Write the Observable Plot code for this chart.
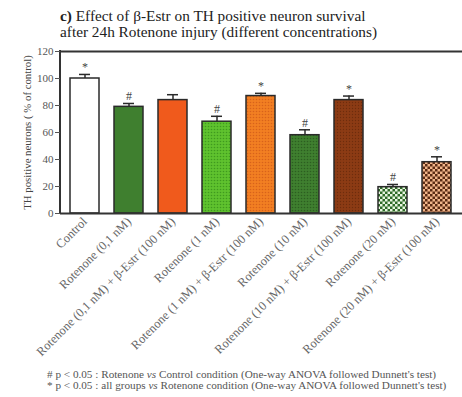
<!DOCTYPE html>
<html>
<head>
<meta charset="utf-8">
<script src="https://cdn.jsdelivr.net/npm/d3@7"></script>
<script src="https://cdn.jsdelivr.net/npm/@observablehq/plot@0.6"></script>
<style>
  body { margin: 0; background: #fff; width: 462px; height: 397px; overflow: hidden; }
  #title { height: 44px; box-sizing: border-box; padding: 8px 0 0 60px; font-family: "Liberation Serif", serif; font-size: 15.3px; line-height: 16px; color: #222; }
  #chart svg { display: block; }
  #foot { position: absolute; left: 47px; top: 369px; font-family: "Liberation Serif", serif; font-size: 11.2px; line-height: 11px; color: #555; white-space: nowrap; }
</style>
</head>
<body>
<div id="title"><b>c)</b> Effect of β-Estr on TH positive neuron survival<br>after 24h Rotenone injury (different concentrations)</div>
<div id="chart"></div>
<div id="foot"># p &lt; 0.05 : Rotenone <i>vs</i> Control condition (One-way ANOVA followed Dunnett's test)<br>* p &lt; 0.05 : all groups <i>vs</i> Rotenone condition (One-way ANOVA followed Dunnett's test)</div>
<script>
const categories = [
  "Control",
  "Rotenone (0,1 nM)",
  "Rotenone (0,1 nM) + β-Estr (100 nM)",
  "Rotenone (1 nM)",
  "Rotenone (1 nM) + β-Estr (100 nM)",
  "Rotenone (10 nM)",
  "Rotenone (10 nM) + β-Estr (100 nM)",
  "Rotenone (20 nM)",
  "Rotenone (20 nM) + β-Estr (100 nM)"
];
const values = [100, 79, 84, 68, 87, 58, 84, 19.5, 38];
const errors = [3, 2.5, 4, 4, 2, 4, 3, 2, 4];
const signif = ["*", "#", "", "#", "*", "#", "*", "#", "*"];
const yTicks = [0, 20, 40, 60, 80, 100, 120];
const yLabel = "TH positive neurons ( % of control)";

const fills = ["#ffffff", "#3f7f2f", "#f05a1c", "url(#pLightGreen)", "url(#pOrange)", "url(#pDarkGreen)", "url(#pBrown)", "url(#pCheckGreen)", "url(#pCheckPeach)"];

const data = categories.map((c, i) => ({name: c, value: values[i], err: errors[i], top: values[i] + errors[i], sig: signif[i], fill: fills[i]}));

const leftAxisLine = (index, scales, values, dimensions) => {
  const g = document.createElementNS("http://www.w3.org/2000/svg", "line");
  g.setAttribute("x1", dimensions.marginLeft);
  g.setAttribute("x2", dimensions.marginLeft);
  g.setAttribute("y1", scales.y(0) + 1);
  g.setAttribute("y2", scales.y(120) - 1);
  g.setAttribute("stroke", "#333");
  g.setAttribute("stroke-width", 2);
  return g;
};

const plot = Plot.plot({
  width: 462,
  height: 322,
  marginTop: 7,
  marginBottom: 153,
  marginLeft: 60,
  marginRight: 0,
  style: {fontFamily: "Liberation Serif, serif", background: "transparent", overflow: "visible"},
  x: {domain: categories, paddingInner: 0.33, paddingOuter: 0.18, label: null},
  y: {domain: [0, 120], ticks: yTicks, label: null},
  marks: [
    Plot.barY(data, {x: "name", y: "value", fill: "fill", stroke: "#2a2a2a", strokeWidth: 1.5}),
    Plot.ruleX(data, {x: "name", y1: "value", y2: "top", stroke: "#2a2a2a", strokeWidth: 1.5}),
    Plot.tickY(data, {x: "name", y: "top", stroke: "#2a2a2a", strokeWidth: 1.5, insetLeft: 9, insetRight: 9}),
    Plot.text(data, {x: "name", y: "top", text: "sig", dy: -7, fontSize: 12, fill: "#444"}),
    Plot.ruleY([0], {stroke: "#333", strokeWidth: 2}),
    Plot.ruleY([120], {stroke: "#333", strokeWidth: 2}),
    leftAxisLine,
    Plot.axisY({ticks: yTicks, tickSize: 5, tickPadding: 2, fontSize: 11, color: "#555", label: null}),
    Plot.axisX({tickSize: 0, tickPadding: 6, tickRotate: -45, fontSize: 12.5, color: "#666", label: null}),
    Plot.text([yLabel], {frameAnchor: "left", textAnchor: "middle", dx: -33, rotate: -90, fontSize: 10.8, fill: "#444"})
  ]
});

const defs = d3.select(plot).insert("defs", ":first-child");
function dots(id, bg, fg, size, r) {
  const p = defs.append("pattern").attr("id", id).attr("patternUnits", "userSpaceOnUse").attr("width", size).attr("height", size);
  p.append("rect").attr("width", size).attr("height", size).attr("fill", bg);
  p.append("circle").attr("cx", size / 2).attr("cy", size / 2).attr("r", r).attr("fill", fg);
}
function checker(id, bg, fg, size) {
  const p = defs.append("pattern").attr("id", id).attr("patternUnits", "userSpaceOnUse").attr("width", size * 2).attr("height", size * 2);
  p.append("rect").attr("width", size * 2).attr("height", size * 2).attr("fill", bg);
  p.append("rect").attr("width", size).attr("height", size).attr("fill", fg);
  p.append("rect").attr("x", size).attr("y", size).attr("width", size).attr("height", size).attr("fill", fg);
}
dots("pLightGreen", "#5fc22e", "#3f9a1e", 3, 0.8);
dots("pOrange", "#f27f22", "#d8621a", 3, 0.8);
dots("pDarkGreen", "#3f7f2f", "#2c5e20", 3, 0.8);
dots("pBrown", "#8c3b14", "#6e2c0c", 3, 0.7);
checker("pCheckGreen", "#2f6a28", "#e8f4e0", 2.5);
checker("pCheckPeach", "#f2b58a", "#5a2c14", 2.5);

document.getElementById("chart").append(plot);
</script>
</body>
</html>
